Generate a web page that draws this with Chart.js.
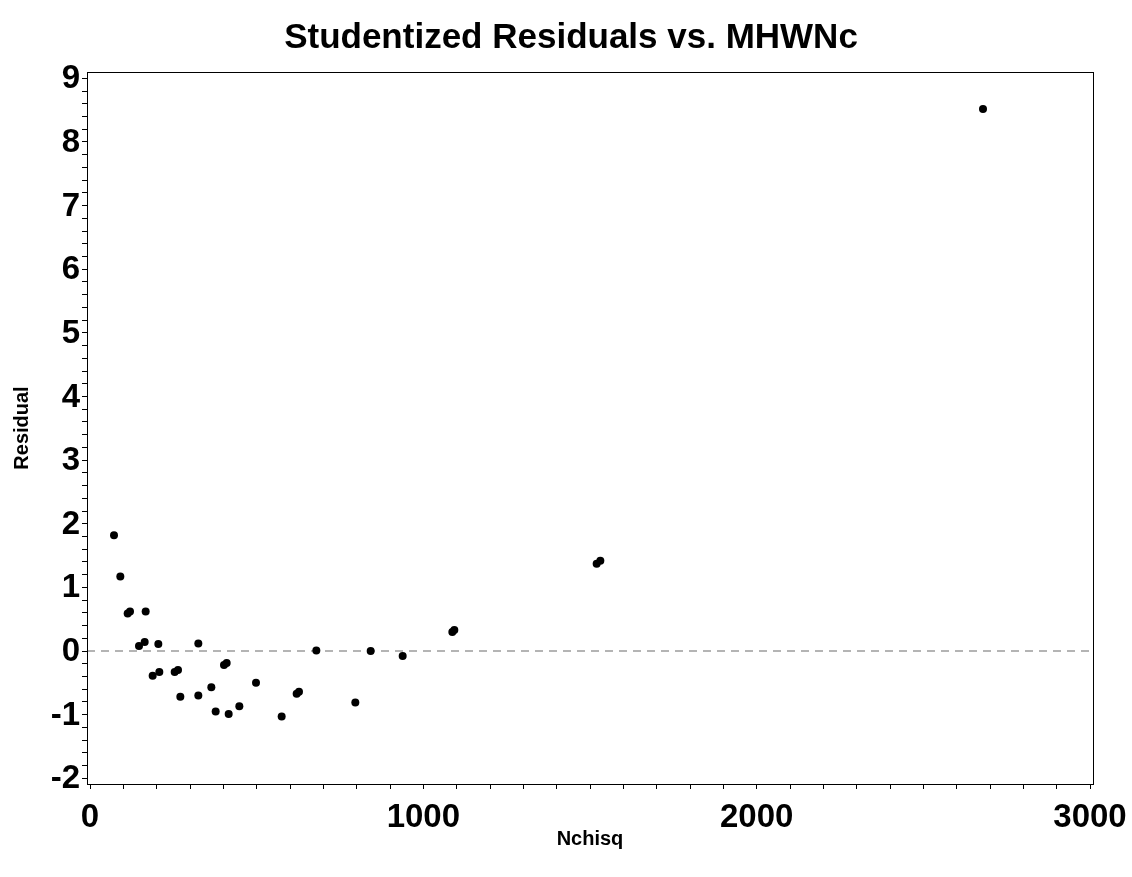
<!DOCTYPE html>
<html lang="en">
<head>
    <meta charset="UTF-8">
    <title>Studentized Residuals vs. MHWNc</title>
    <script src="https://cdn.jsdelivr.net/npm/chart.js"></script>
    <style>
        * {
            margin: 0;
            padding: 0;
            box-sizing: border-box;
        }

        body {
            background: #ffffff;
            width: 1132px;
            height: 877px;
            overflow: hidden;
        }

        canvas {
            display: block;
        }
    </style>
</head>
<body>
    <canvas id="residualChart" width="1132" height="877"></canvas>
    <script>
        // Data
        const nchisq = [72, 91, 113, 120, 167, 147, 164, 205, 188, 208, 254, 264, 271, 325, 325, 364, 377,
            402, 410, 416, 448, 498, 575, 620, 627, 679, 796, 842, 938, 1087, 1093, 1520, 1531, 2679];
        const residual = [1.82, 1.17, 0.59, 0.62, 0.62, 0.08, 0.14, 0.11, -0.39, -0.33, -0.33, -0.30, -0.72, 0.12, -0.70, -0.57, -0.95,
            -0.22, -0.19, -0.99, -0.87, -0.50, -1.03, -0.67, -0.64, 0.01, -0.81, 0.00, -0.08, 0.30, 0.33, 1.37, 1.42, 8.52];

        // Axis settings
        const xMin = -9, xMax = 3009;
        const yMin = -2.09, yMax = 9.1;
        const xTickValues = Array.from({ length: 31 }, (_, i) => i * 100);
        const yTickValues = Array.from({ length: 56 }, (_, i) => Math.round((-2 + i * 0.2) * 10) / 10);
        const referenceY = 0;

        const fontFamily = "Arial, 'Liberation Sans', sans-serif";

        const points = nchisq.map((x, i) => ({ x: x, y: residual[i] }));

        // Frame around the plot area
        const framePlugin = {
            id: 'frame',
            afterDraw(chart) {
                const { ctx, chartArea } = chart;
                ctx.save();
                ctx.strokeStyle = '#000';
                ctx.lineWidth = 1;
                ctx.strokeRect(Math.round(chartArea.left) + 0.5, Math.round(chartArea.top) + 0.5,
                    Math.round(chartArea.right - chartArea.left), Math.round(chartArea.bottom - chartArea.top));
                ctx.restore();
            }
        };

        new Chart(document.getElementById('residualChart'), {
            type: 'scatter',
            data: {
                datasets: [
                    {
                        type: 'scatter',
                        data: points,
                        backgroundColor: '#000',
                        borderColor: '#000',
                        borderWidth: 0,
                        pointRadius: 4,
                        order: 1
                    },
                    {
                        type: 'line',
                        data: [{ x: xMin, y: referenceY }, { x: xMax, y: referenceY }],
                        borderColor: '#b4b4b4',
                        borderWidth: 2,
                        borderDash: [8, 6],
                        pointRadius: 0,
                        fill: false,
                        order: 2
                    }
                ]
            },
            options: {
                responsive: false,
                animation: false,
                layout: { padding: { left: 10, right: 0, top: 0, bottom: 0 } },
                plugins: {
                    legend: { display: false },
                    tooltip: { enabled: false },
                    title: {
                        display: true,
                        text: 'Studentized Residuals vs. MHWNc',
                        color: '#000',
                        font: { family: fontFamily, size: 35, weight: 'bold' },
                        padding: { top: 17, bottom: 13 }
                    }
                },
                scales: {
                    x: {
                        type: 'linear',
                        min: xMin,
                        max: xMax,
                        afterBuildTicks: (scale) => { scale.ticks = xTickValues.map(v => ({ value: v })); },
                        afterFit: (scale) => {
                            scale.height = 93;
                            scale.paddingLeft = 0;
                            scale.paddingRight = 0;
                        },
                        grid: { drawOnChartArea: false, drawTicks: true, tickLength: 5, tickColor: '#000', tickWidth: 1 },
                        border: { display: true, color: '#000', width: 1 },
                        ticks: {
                            autoSkip: false,
                            maxRotation: 0,
                            padding: 9,
                            color: '#000',
                            font: { family: fontFamily, size: 33, weight: 'bold' },
                            callback: (v) => (v % 1000 === 0 ? String(v) : '')
                        },
                        title: {
                            display: true,
                            text: 'Nchisq',
                            color: '#000',
                            font: { family: fontFamily, size: 20, weight: 'bold' },
                            padding: { top: 0, bottom: 26 }
                        }
                    },
                    y: {
                        type: 'linear',
                        min: yMin,
                        max: yMax,
                        afterBuildTicks: (scale) => { scale.ticks = yTickValues.map(v => ({ value: v })); },
                        afterFit: (scale) => { scale.width = 77; },
                        grid: { drawOnChartArea: false, drawTicks: true, tickLength: 5, tickColor: '#000', tickWidth: 1 },
                        border: { display: true, color: '#000', width: 1 },
                        ticks: {
                            autoSkip: false,
                            padding: 2,
                            labelOffset: 1,
                            color: '#000',
                            font: { family: fontFamily, size: 33, weight: 'bold' },
                            callback: (v) => (Math.abs(v - Math.round(v)) < 1e-6 ? String(Math.round(v)) : '')
                        },
                        title: {
                            display: true,
                            text: 'Residual',
                            color: '#000',
                            font: { family: fontFamily, size: 20, weight: 'bold' },
                            padding: { top: 0, bottom: 0 }
                        }
                    },
                    // empty right-hand margin so the title centres like the original
                    yMargin: {
                        type: 'linear',
                        position: 'right',
                        display: true,
                        afterFit: (scale) => { scale.width = 39; },
                        grid: { display: false },
                        border: { display: false },
                        ticks: { display: false }
                    }
                }
            },
            plugins: [framePlugin]
        });
    </script>
</body>
</html>
